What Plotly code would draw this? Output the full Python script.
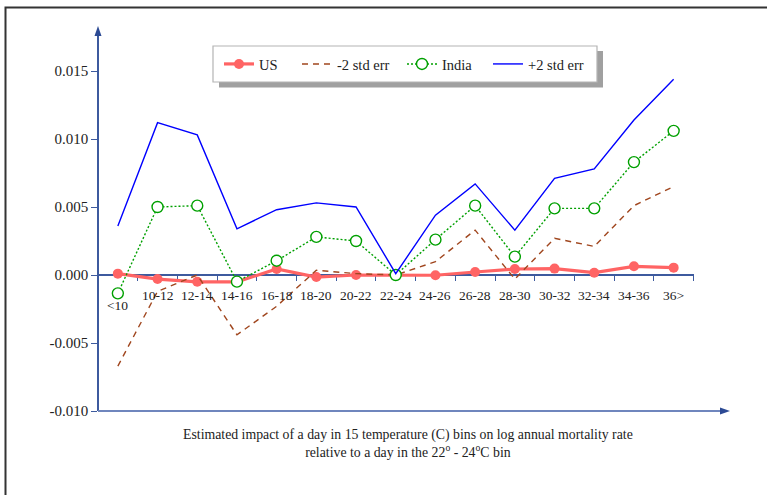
import plotly.graph_objects as go

categories = ["<10", "10-12", "12-14", "14-16", "16-18", "18-20", "20-22", "22-24",
              "24-26", "26-28", "28-30", "30-32", "32-34", "34-36", "36>"]
us = [0.0001, -0.0003, -0.0005, -0.0005, 0.00044, -0.00015, 0.0, 0.0,
      -0.00002, 0.00022, 0.00044, 0.00047, 0.00017, 0.00064, 0.00054]
minus2se = [-0.0067, -0.0012, 0.0, -0.0044, -0.0023, 0.00035, 0.0001, 0.0,
            0.00098, 0.0033, -0.0003, 0.0027, 0.0021, 0.0051, 0.0065]
india = [-0.00135, 0.0050, 0.0051, -0.00049, 0.00105, 0.0028, 0.0025, 0.0,
         0.0026, 0.0051, 0.00135, 0.0049, 0.0049, 0.0083, 0.0106]
plus2se = [0.0036, 0.0112, 0.0103, 0.0034, 0.0048, 0.0053, 0.0050, 0.0001,
           0.0044, 0.0067, 0.0033, 0.0071, 0.0078, 0.0114, 0.0144]
ytick_vals = [-0.010, -0.005, 0.0, 0.005, 0.010, 0.015]
ytick_text = ["-0.010", "-0.005", "0.000", "0.005", "0.010", "0.015"]
note = ("Estimated impact of a day in 15 temperature (C) bins on log annual mortality rate<br>"
        "relative to a day in the 22<sup>o</sup> - 24<sup>o</sup>C bin")

W, H = 767, 495
ML, MR, MT, MB = 98, 42, 30, 84
PW, PH = W - ML - MR, H - MT - MB
YMIN = -0.010
YMAX = YMIN + PH / 13600.0
AX = "#3d5a9e"
HEAD = "#2c4a94"
FONT = "Liberation Serif"

def px_x(p):
    return (p - ML) / PW

def px_y(p):
    return (H - MB - p) / PH

fig = go.Figure()
fig.add_trace(go.Scatter(x=categories, y=us, name="US", mode="lines+markers",
                         line=dict(color="#ff6464", width=3.2), legend="legend",
                         marker=dict(size=10, color="#ff6464")))
fig.add_trace(go.Scatter(x=categories, y=minus2se, name="-2 std err", mode="lines",
                         legend="legend2",
                         line=dict(color="#a0461e", width=1.4, dash="6px,5px")))
fig.add_trace(go.Scatter(x=categories, y=india, name="India", mode="lines+markers",
                         legend="legend3",
                         line=dict(color="#00a000", width=1.4, dash="2px,2px"),
                         marker=dict(size=11, color="white", symbol="circle",
                                     line=dict(color="#00a000", width=1.4))))
fig.add_trace(go.Scatter(x=categories, y=plus2se, name="+2 std err", mode="lines",
                         legend="legend4",
                         line=dict(color="#0000ff", width=1.4)))

zero_pos = (0 - YMIN) / (YMAX - YMIN)
x_end = (693.5 - ML) / PW

annotations = []
for i, c in enumerate(categories):
    annotations.append(dict(x=c, y=0, xref="x", yref="y", text=c, showarrow=False,
                            yanchor="middle", yshift=-30 if i == 0 else -20,
                            font=dict(family=FONT, size=13.5, color="#222")))
annotations.append(dict(x=px_x(407.5), y=px_y(425), xref="paper", yref="paper", text=note,
                        showarrow=False, yanchor="top", xanchor="center", align="center",
                        font=dict(family=FONT, size=13.8, color="#222")))


def tri(p1, p2, p3):
    return "M {} {} L {} {} L {} {} Z".format(px_x(p1[0]), px_y(p1[1]), px_x(p2[0]), px_y(p2[1]),
                                              px_x(p3[0]), px_y(p3[1]))

shapes = [
    dict(type="line", xref="paper", yref="paper", x0=0, x1=px_x(722), y0=0, y1=0,
         line=dict(color="#6f86bd", width=2)),
    dict(type="line", xref="paper", yref="paper", x0=0, x1=0, y0=1, y1=px_y(33),
         line=dict(color=AX, width=1.5)),
    dict(type="path", xref="paper", yref="paper", path=tri((98, 26), (94.5, 36), (101.5, 36)),
         fillcolor=HEAD, line=dict(width=0)),
    dict(type="path", xref="paper", yref="paper", path=tri((730, 411), (720, 407.5), (720, 414.5)),
         fillcolor=HEAD, line=dict(width=0)),
    # legend shadow and box
    dict(type="rect", xref="paper", yref="paper", x0=px_x(219), x1=px_x(603),
         y0=px_y(87.5), y1=px_y(51), fillcolor="#a0a0a0", line=dict(width=0), layer="above"),
    dict(type="rect", xref="paper", yref="paper", x0=px_x(213), x1=px_x(597),
         y0=px_y(82), y1=px_y(46), fillcolor="white", line=dict(color="#b4b4b4", width=1.2),
         layer="above"),
    # outer frame
    dict(type="rect", xref="paper", yref="paper", x0=px_x(5.5), x1=px_x(800),
         y0=px_y(540), y1=px_y(7.5), line=dict(color="#333", width=2), layer="above"),
]

legend_x = [219, 297, 402, 488]
legend_common = dict(orientation="h", xanchor="left", yanchor="middle", y=px_y(64),
                     bgcolor="rgba(0,0,0,0)", borderwidth=0,
                     font=dict(family=FONT, size=14.5, color="#222"))

fig.update_layout(
    width=W, height=H,
    margin=dict(l=ML, r=MR, t=MT, b=MB, pad=0),
    paper_bgcolor="white", plot_bgcolor="white",
    font=dict(family=FONT, size=15, color="#222"),
    xaxis=dict(type="category", categoryorder="array", categoryarray=categories,
               range=[-0.5, 14.5], domain=[0, x_end], anchor="free", position=zero_pos,
               showline=True, linecolor=AX, linewidth=1.5, tickson="boundaries",
               ticks="outside", ticklen=5, tickcolor=AX, tickwidth=1.2,
               showticklabels=False, showgrid=False, zeroline=False, layer="below traces"),
    yaxis=dict(range=[YMIN, YMAX], tickvals=ytick_vals, ticktext=ytick_text,
               showline=True, linecolor=AX, linewidth=1.5, ticks="outside", ticklen=6,
               tickcolor=AX, tickwidth=1.2, showgrid=False, zeroline=False,
               tickfont=dict(family=FONT, size=15, color="#222"),
               anchor="free", position=0, layer="below traces"),
    legend=dict(x=px_x(legend_x[0]), **legend_common),
    legend2=dict(x=px_x(legend_x[1]), **legend_common),
    legend3=dict(x=px_x(legend_x[2]), **legend_common),
    legend4=dict(x=px_x(legend_x[3]), **legend_common),
    annotations=annotations, shapes=shapes, showlegend=True,
)

fig.write_html("out.html", config={"displayModeBar": False},
               post_script="document.body.style.margin='0px';")
